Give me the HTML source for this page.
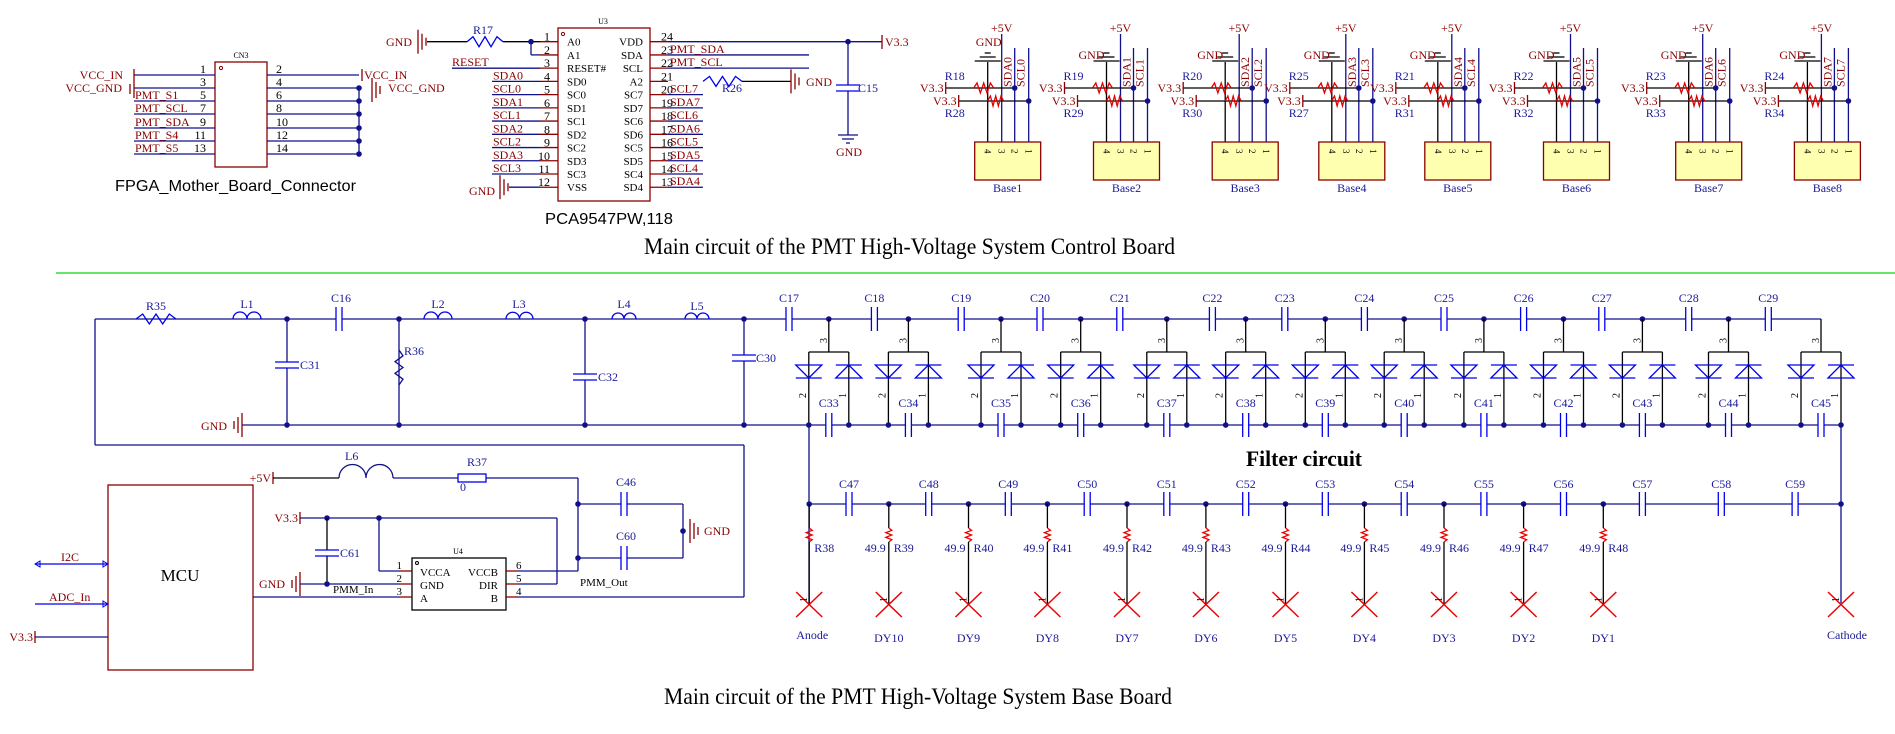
<!DOCTYPE html>
<html><head><meta charset="utf-8"><style>
html,body{margin:0;padding:0;background:#fff;width:1895px;height:734px;overflow:hidden}
svg{display:block;font-family:"Liberation Serif",serif;font-size:12px}
</style></head><body>
<svg id="s" width="1895" height="734" viewBox="0 0 1895 734" xmlns="http://www.w3.org/2000/svg"></svg>
<script>
var S=document.getElementById('s'),o='';
var NV='#10108a',LB='#1a1a9a',RD='#8b0000',BL='#0000ee',BK='#000';
var SQ=' lengthAdjust="spacingAndGlyphs"';
function L(a,b,c,d,col,w){o+='<line x1="'+a+'" y1="'+b+'" x2="'+c+'" y2="'+d+'" stroke="'+(col||NV)+'" stroke-width="'+(w||1.3)+'"/>';}
function T(x,y,s,col,sz,anc,ext){o+='<text x="'+x+'" y="'+y+'" fill="'+(col||LB)+'" font-size="'+(sz||12)+'"'+(anc?' text-anchor="'+anc+'"':'')+(ext||'')+'>'+s+'</text>';}
function TR(x,y,s,col,sz){o+='<text x="'+x+'" y="'+y+'" fill="'+col+'" font-size="'+(sz||12)+'" transform="rotate(-90 '+x+' '+y+')">'+s+'</text>';}
function D(x,y){o+='<circle cx="'+x+'" cy="'+y+'" r="2.8" fill="'+NV+'"/>';}
function R(x,y,w,h,st,f){o+='<rect x="'+x+'" y="'+y+'" width="'+w+'" height="'+h+'" stroke="'+st+'" stroke-width="1.3" fill="'+(f||'none')+'"/>';}
function P(d,col,w){o+='<path d="'+d+'" stroke="'+col+'" stroke-width="'+(w||1.3)+'" fill="none"/>';}
function CH(x,y){o+='<rect x="'+(x-3)+'" y="'+(y-3)+'" width="6" height="6" fill="#fff"/>';L(x-3,y-12,x-3,y+12,BL);L(x+3,y-12,x+3,y+12,BL);}
function CV(x,y){o+='<rect x="'+(x-3)+'" y="'+(y-3)+'" width="6" height="6" fill="#fff"/>';L(x-12,y-3,x+12,y-3,BL);L(x-12,y+3,x+12,y+3,BL);}
function ZH(x1,x2,y,col){var n=6,d='M'+x1+' '+y,s=(x2-x1)/n;for(var i=1;i<n;i++)d+=' L'+(x1+s*i)+' '+(y+(i%2?-5:5));d+=' L'+x2+' '+y;P(d,col);}
function ZV(x,y1,y2,col,a){var n=6,d='M'+x+' '+y1,s=(y2-y1)/n;a=a||4;for(var i=1;i<n;i++)d+=' L'+(x+(i%2?a:-a))+' '+(y1+s*i);d+=' L'+x+' '+y2;P(d,col);}
function IND(x1,x2,y,col){var n=2,s=(x2-x1)/n,d='M'+x1+' '+y;for(var i=0;i<n;i++)d+=' A'+(s/2)+' '+(s/2)+' 0 0 1 '+(x1+s*(i+1))+' '+y;P(d,col||NV);}
function GNDV(x,y,col){L(x,y-12,x,y+12,col||RD);L(x+4,y-8,x+4,y+8,col||RD);L(x+8,y-4,x+8,y+4,col||RD);}
function GNDVL(x,y,col){L(x,y-12,x,y+12,col||RD);L(x-4,y-8,x-4,y+8,col||RD);L(x-8,y-4,x-8,y+4,col||RD);}

L(56,273,1895,273,'#33dd33',1.5);

// CN3
R(215,62,52,105,RD);T(241,58,'CN3',BK,8,'middle');o+='<circle cx="221" cy="68" r="1.6" fill="none" stroke="'+RD+'"/>';
var ry=[75,88,101,114,128,141,154],ln=['1','3','5','7','9','11','13'],rn=['2','4','6','8','10','12','14'];
var ll=['','','PMT_S1','PMT_SCL','PMT_SDA','PMT_S4','PMT_S5'];
for(var i=0;i<7;i++){L(134,ry[i],215,ry[i],NV);L(267,ry[i],359,ry[i],NV);T(206,ry[i]-2,ln[i],BK,12,'end');T(276,ry[i]-2,rn[i],BK,12);if(ll[i])T(135,ry[i]-2,ll[i],RD,12);if(i>0)D(359,ry[i]);}
L(359,88,359,154);
L(134,69,134,98,RD);T(123,79,'VCC_IN',RD,12,'end');T(122,92,'VCC_GND',RD,12,'end');L(130,84,130,94,RD);
L(362,69,362,81,RD);T(364,79,'VCC_IN',RD,12);GNDV(372,90);T(388,92,'VCC_GND',RD,12);
T(115,191,'FPGA_Mother_Board_Connector',BK,16,null,' font-family="Liberation Sans,sans-serif" textLength="241"'+SQ);

// U3
R(558,28,92,173,RD);T(603,24,'U3',BK,8,'middle');o+='<circle cx="563" cy="34" r="1.6" fill="none" stroke="'+RD+'"/>';
var li=['A0','A1','RESET#','SD0','SC0','SD1','SC1','SD2','SC2','SD3','SC3','VSS'],ri=['VDD','SDA','SCL','A2','SC7','SD7','SC6','SD6','SC5','SD5','SC4','SD4'];
var ll2=['','','','SDA0','SCL0','SDA1','SCL1','SDA2','SCL2','SDA3','SCL3',''],rl2=['','PMT_SDA','PMT_SCL','','SCL7','SDA7','SCL6','SDA6','SCL5','SDA5','SCL4','SDA4'];
for(var k=0;k<12;k++){var y=41.7+13.23*k;L(540,y,558,y,RD);L(650,y,668,y,RD);T(567,y+4,li[k],BK,11);T(643,y+4,ri[k],BK,11,'end');T(550,y-1,String(k+1),BK,12,'end');T(661,y-1,String(24-k),BK,12);
 if(ll2[k]){L(492,y,540,y,NV);T(493,y-2,ll2[k],RD,12);}
 if(rl2[k]){L(668,y,rl2[k].length>5?809:703,y,NV);T(670,y-2,rl2[k],RD,12);}}
T(412,46,'GND',RD,12,'end');GNDV(418,41.7);L(427,41.7,467,41.7,BK);ZH(467,503,41.7,BL);L(503,41.7,540,41.7,BK);D(531,41.7);L(531,41.7,531,54.9,NV);L(531,54.9,540,54.9,NV);T(473,34,'R17',LB,12);
L(452,68.2,540,68.2,NV);T(452,66,'RESET',RD,12);
T(495,195,'GND',RD,12,'end');GNDV(500,187.2);L(509,187.2,540,187.2,NV);
L(668,41.7,882,41.7,NV);L(882,35,882,49,RD);T(885,46,'V3.3',RD,12);D(848,41.7);L(848,41.7,848,135,NV);CV(848,88);T(858,92,'C15',LB,12);
L(838,135,858,135,NV);L(842,139,854,139,NV);L(846,143,850,143,NV);T(849,156,'GND',RD,12,'middle');
ZH(703,742,81.4,BL);L(742,81.4,791,81.4,BK);GNDV(791,81.4);T(806,86,'GND',RD,12);T(722,92,'R26',LB,12);
T(545,224,'PCA9547PW,118',BK,16,null,' font-family="Liberation Sans,sans-serif" textLength="128"'+SQ);

// Bases
var BX=[974.7,1093.5,1212.2,1318.8,1424.8,1543.5,1675.7,1794.4];
var rt=['R18','R19','R20','R25','R21','R22','R23','R24'],rb=['R28','R29','R30','R27','R31','R32','R33','R34'];
for(var b=0;b<8;b++){var B=BX[b],x1=B+13,x2=B+27,x3=B+40,x4=B+54;
 L(x1,62,x1,142,BK);L(x2,34,x2,142,NV);L(x3,48,x3,142,NV);L(x4,48,x4,142,NV);
 L(x1-13,61,x1+13,61,BK);L(x1-8,57,x1+8,57,BK);L(x1-3,53,x1+3,53,BK);
 T(x2,32,'+5V',RD,12,'middle');T(b==0?x1+1:x1-2,b==0?46:59,'GND',RD,12,b==0?'middle':'end');
 TR(x2+10,87,'SDA'+b,RD,12);TR(x3+10,87,'SCL'+b,RD,12);
 L(B-29,88,x3,88,BK);ZH(B-1,B+19,88,'#e00000');L(B-16,101,x4,101,BK);ZH(B+13,B+29,101,'#e00000');D(x3,88);D(x4,101);
 L(B-29,82,B-29,94,RD);L(B-16,95,B-16,107,RD);T(B-31,92,'V3.3',RD,12,'end');T(B-18,105,'V3.3',RD,12,'end');
 T(B-30,80,rt[b],LB,12);T(B-30,117,rb[b],LB,12);
 R(B,142,66,38,RD,'#ffffb0');
 var ns=['4','3','2','1'],xs=[x1,x2,x3,x4];for(var j=0;j<4;j++)o+='<text x="'+(xs[j]-3)+'" y="149" fill="'+BK+'" font-size="9" transform="rotate(90 '+(xs[j]-3)+' 149)">'+ns[j]+'</text>';
 T(B+33,192,'Base'+(b+1),LB,12,'middle');}
T(644,254,'Main circuit of the PMT High-Voltage System Control Board',BK,23,null,' textLength="531"'+SQ);

// Lower filter
var TY=319,GY=425;
L(95,TY,1821,TY,NV);ZH(136,176,TY,BL);IND(233,261,TY,BL);IND(424,452,TY,BL);IND(506,533,TY,BL);IND(612,636,TY,BL);IND(685,709,TY,BL);
T(156,310,'R35',LB,12,'middle');T(247,308,'L1',LB,12,'middle');T(438,308,'L2',LB,12,'middle');T(519,308,'L3',LB,12,'middle');T(624,308,'L4',LB,12,'middle');T(697,310,'L5',LB,12,'middle');
CH(339,TY);T(341,302,'C16',LB,12,'middle');
L(242,GY,1841,GY,NV);T(227,430,'GND',RD,12,'end');GNDVL(242,GY);
[287,399,585,744].forEach(function(x){D(x,TY);D(x,GY);L(x,TY,x,GY,NV);});
CV(287,365);T(300,369,'C31',LB,12);ZV(399,350,385,NV);T(404,355,'R36',LB,12);CV(585,377);T(598,381,'C32',LB,12);CV(744,358);T(756,362,'C30',LB,12);
L(95,TY,95,445,NV);L(95,445,744,445,NV);L(744,445,744,597,NV);

// MCU
R(108,485,145,185,RD);T(180,581,'MCU',BK,17,'middle');
L(35,564,108,564,BL);P('M35 564 l5 -3 v6 z M108 564 l-5 -3 v6 z',BL,1);T(70,561,'I2C',RD,12,'middle');
L(35,604,108,604,BL);P('M108 604 l-5 -3 v6 z',BL,1);T(49,601,'ADC_In',RD,12);
L(35,637,108,637,NV);L(35,631,35,643,RD);T(33,641,'V3.3',RD,12,'end');
L(273,472,273,484,RD);T(271,482,'+5V',RD,12,'end');L(273,478,339,478,BK);IND(339,393,478,NV);L(393,478,458,478,NV);R(458,474,28,8,BL);L(486,478,578,478,NV);
T(345,460,'L6',LB,12);T(467,466,'R37',LB,12);T(460,491,'0',LB,12);
L(578,478,578,571,NV);D(578,504);D(578,558);L(578,504,683,504,NV);L(578,558,683,558,NV);CH(624,504);CH(624,558);L(683,504,683,558,NV);D(683,531);GNDV(690,531);T(704,535,'GND',RD,12);
T(626,486,'C46',LB,12,'middle');T(626,540,'C60',LB,12,'middle');
R(412,558,94,52,BK);T(458,554,'U4',BK,8,'middle');o+='<circle cx="417" cy="563" r="1.5" fill="none" stroke="'+BK+'"/>';
var py=[571,584,597];['1','2','3'].forEach(function(n,i){L(400,py[i],412,py[i],RD);T(402,py[i]-2,n,BK,11,'end');});
['6','5','4'].forEach(function(n,i){L(506,py[i],518,py[i],RD);T(516,py[i]-2,n,BK,11);});
T(420,576,'VCCA',BK,11);T(420,589,'GND',BK,11);T(420,602,'A',BK,11);T(498,576,'VCCB',BK,11,'end');T(498,589,'DIR',BK,11,'end');T(498,602,'B',BK,11,'end');
L(518,571,578,571,NV);L(518,584,557,584,NV);L(557,518,557,584,NV);L(518,597,744,597,NV);
L(300,512,300,524,RD);T(298,522,'V3.3',RD,12,'end');L(300,518,557,518,NV);D(327,518);D(379,518);L(379,518,379,571,NV);L(379,571,400,571,NV);
L(327,518,327,584,BK);CV(327,553);T(340,557,'C61',LB,12);
T(285,588,'GND',RD,12,'end');GNDVL(300,584);L(300,584,400,584,NV);D(327,584);
L(253,597,400,597,NV);T(333,593,'PMM_In',BK,11);T(580,586,'PMM_Out',BK,11);

// Diode ladder
var TN=[828.8,908.4,1001,1080.7,1166.8,1245.7,1325.3,1404.2,1483.9,1563.5,1642.4,1728.5,1821];
var TC=[789,874.4,961.2,1040,1119.8,1212.4,1284.8,1364.4,1444,1523.6,1601.8,1688.7,1768.3];
TC.forEach(function(x,i){CH(x,TY);T(x,302,'C'+(17+i),LB,12,'middle');});
TN.forEach(function(n,i){var a=n-20,c=n+20;if(i<12)D(n,TY);L(n,TY,n,352,BK);L(a,352,c,352,BK);
 L(a,352,a,GY,BK);L(c,352,c,GY,BK);
 P('M'+(a-13)+' 365 L'+(a+13)+' 365 L'+a+' 378 Z',BL);L(a-13,378,a+13,378,BL);
 P('M'+(c-13)+' 378 L'+(c+13)+' 378 L'+c+' 365 Z',BL);L(c-13,365,c+13,365,BL);
 TR(n-2,343,'3',BK,10);TR(a-3,398,'2',BK,10);TR(c-3,398,'1',BK,10);
 D(a,GY);D(c,GY);CH(n,GY);T(n,407,'C'+(33+i),LB,12,'middle');});
T(1246,466,'Filter circuit',BK,22,null,' font-weight="bold" textLength="116"'+SQ);

// Divider
var RY=504;L(809,GY,809,603,NV);L(1841,GY,1841,603,NV);L(809,RY,1841,RY,NV);D(1841,RY);
var LN=[809.2,888.8,968.5,1047.4,1127,1205.9,1285.5,1364.4,1444,1523.6,1603.3];
var LC=[849,928.7,1008.3,1087.2,1166.8,1245.7,1325.3,1404.2,1483.9,1563.5,1642.4,1721.3,1795.1];
LC.forEach(function(x,i){CH(x,RY);T(x,488,'C'+(47+i),LB,12,'middle');});
var names=['Anode','DY10','DY9','DY8','DY7','DY6','DY5','DY4','DY3','DY2','DY1'];
function XM(x){L(x-13,592,x+13,617,'#ee0000',1.5);L(x+13,592,x-13,617,'#ee0000',1.5);TR(x-2,602,'1',BK,10);}
LN.forEach(function(n,i){D(n,RY);L(n,RY,n,528,BK);ZV(n,528,542,'#ee0000',3);L(n,542,n,604,BK);XM(n);
 T(n+5,552,'R'+(38+i),LB,12);if(i>0)T(n-3,552,'49.9',LB,12,'end');
 T(n+(i==0?3:0),i==0?639:642,names[i],LB,12,'middle');});
XM(1841);T(1847,639,'Cathode',LB,12,'middle');
T(664,704,'Main circuit of the PMT High-Voltage System Base Board',BK,23,null,' textLength="508"'+SQ);
S.innerHTML=o;
</script>
</body></html>
